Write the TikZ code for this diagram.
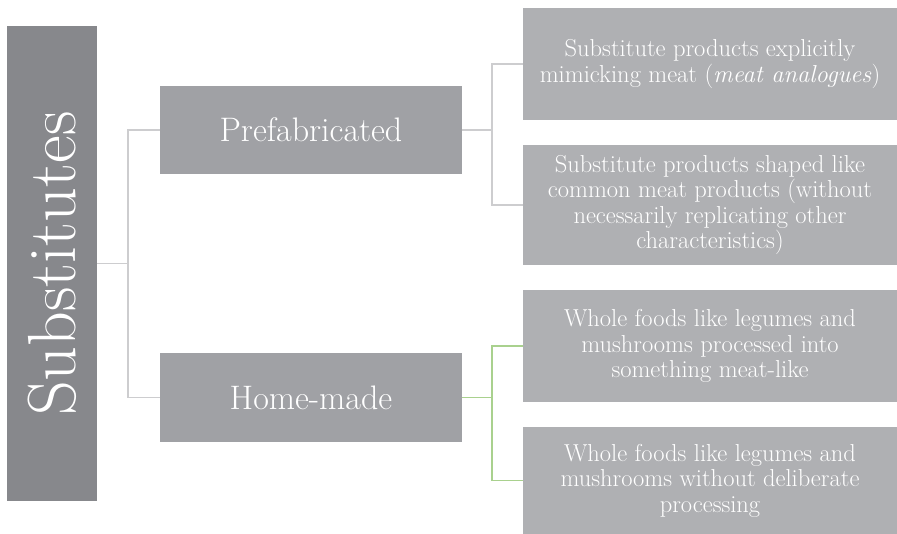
\documentclass[tikz,border=0pt]{standalone}
\usepackage{xcolor}
\definecolor{grisOscuro}{RGB}{135, 136, 140}
\definecolor{gris}{RGB}{160, 161, 165}
\definecolor{grisClaro}{RGB}{175, 176, 179}
\definecolor{lineaGris}{RGB}{205, 205, 207}
\definecolor{verde}{RGB}{169, 209, 142}
\usepackage{tikz}
\usetikzlibrary{positioning,calc}
\tikzstyle{caja}  =[rectangle, text=white, inner sep=0pt,
                    outer sep=0pt, align=center]
\tikzstyle{enlace}=[line width=1.1pt]

\begin{document}
\begin{tikzpicture}[x=1pt,y=-1pt]
    \useasboundingbox (0,0) rectangle (897,534);

        \begin{scope}[]
            \node (sub) at (52,263.5) [caja,fill=grisOscuro,minimum width=90pt,minimum height=475pt] {};
            \node [rotate=90,text=white] at (sub.center) {\fontsize{68}{68}\selectfont Substitutes};

            \node (pre) at (311,130) [caja,fill=gris,minimum width=302pt,minimum height=88pt] {\fontsize{34}{36}\selectfont Prefabricated};
            \node (home) at (311,397.5) [caja,fill=gris,minimum width=302pt,minimum height=89pt] {\fontsize{34}{36}\selectfont Home-made};
        \end{scope}

        \begin{scope}[every node/.append style={caja,fill=grisClaro,minimum width=374pt,font=\fontsize{24.5}{25.5}\selectfont}]
            \node (r1) at (710,64) [minimum height=112pt] {Substitute products explicitly\\ mimicking meat (\textit{meat analogues})};
            \node (r2) at (710,205) [minimum height=120pt] {Substitute products shaped like\\ common meat products (without\\ necessarily replicating other\\ characteristics)};
            \node (r3) at (710,346) [minimum height=112pt] {Whole foods like legumes and\\ mushrooms processed into\\ something meat-like};
            \node (r4) at (710,480.5) [minimum height=107pt] {Whole foods like legumes and\\ mushrooms without deliberate\\ processing};
        \end{scope}

        \foreach \j in {pre,home}
            \draw [enlace,lineaGris] (sub.east) -- ++(31,0) |- (\j.west);
        \foreach \j in {r1,r2}
            \draw [enlace,lineaGris] (pre.east) -- ++(30,0) |- (\j.west);
        \foreach \j in {r3,r4}
            \draw [enlace,verde] (home.east) -- ++(30,0) |- (\j.west);

    \end{tikzpicture}
\end{document}
